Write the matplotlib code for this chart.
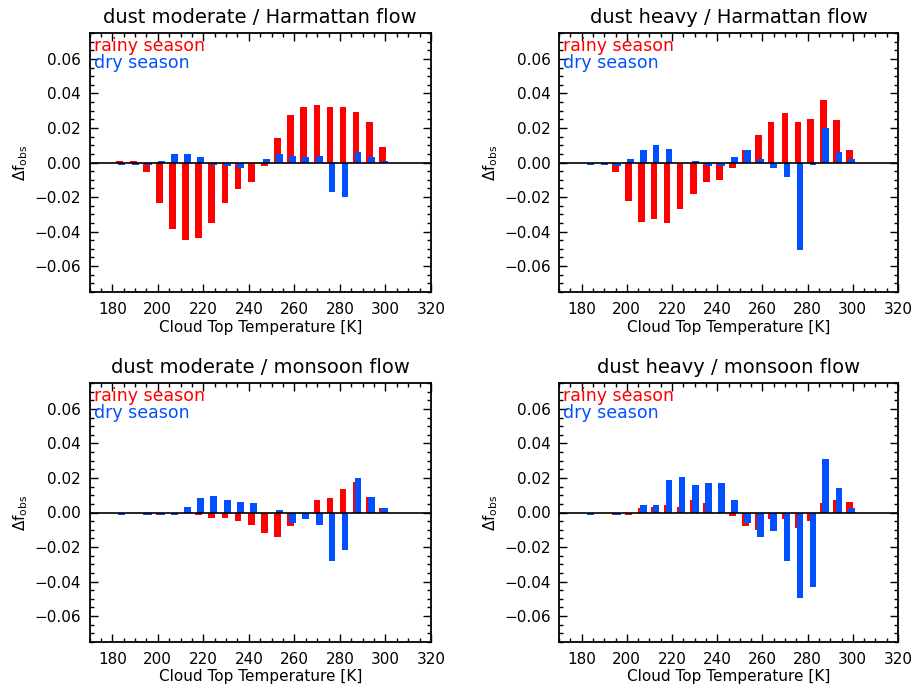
import matplotlib
matplotlib.use("Agg")
import matplotlib.pyplot as plt
from matplotlib.ticker import MultipleLocator

# Cloud-top temperature bin centres [K]
temps = [183.1, 189.2, 195.1, 200.7, 206.4, 212.1, 217.8, 223.5, 229.6, 235.3, 241.1,
         246.8, 252.5, 258.2, 263.9, 270.0, 275.7, 281.4, 287.1, 292.9, 298.6]

titles = ["dust moderate / Harmattan flow", "dust heavy / Harmattan flow",
          "dust moderate / monsoon flow", "dust heavy / monsoon flow"]

# dust moderate / Harmattan flow
rainy_mod_harm = [0.0008, 0.0008, -0.0055, -0.0233, -0.0388, -0.0451, -0.0439, -0.0348, -0.0233, -0.0153, -0.0113,
                  -0.0021, 0.0139, 0.0277, 0.0323, 0.0334, 0.0323, 0.0323, 0.0294, 0.0237, 0.0088]
dry_mod_harm = [-0.0015, -0.0015, -0.0015, 0.0008, 0.0048, 0.0048, 0.0031, -0.0015, -0.0020, -0.0032, 0.0,
                0.0019, 0.0048, 0.0036, 0.0031, 0.0036, -0.0170, -0.0199, 0.0059, 0.0031, 0.0008]

# dust heavy / Harmattan flow
rainy_hvy_harm = [0.0, 0.0, -0.0055, -0.0222, -0.0342, -0.0330, -0.0348, -0.0267, -0.0181, -0.0113, -0.0101,
                  -0.0032, 0.0071, 0.0157, 0.0237, 0.0288, 0.0237, 0.0254, 0.0363, 0.0248, 0.0071]
dry_hvy_harm = [-0.0015, -0.0015, -0.0020, 0.0019, 0.0071, 0.0099, 0.0076, 0.0, 0.0008, -0.0020, -0.0020,
                0.0031, 0.0071, 0.0019, -0.0032, -0.0084, -0.0508, -0.0015, 0.0197, 0.0059, 0.0019]

# dust moderate / monsoon flow
rainy_mod_mons = [0.0, 0.0, -0.0012, -0.0012, 0.0, 0.0, -0.0012, -0.0032, -0.0032, -0.0050, -0.0073,
                  -0.0118, -0.0141, -0.0078, 0.0, 0.0071, 0.0082, 0.0134, 0.0174, 0.0088, 0.0025]
dry_mod_mons = [-0.0012, 0.0, -0.0012, -0.0012, -0.0012, 0.0030, 0.0082, 0.0094, 0.0071, 0.0059, 0.0053,
                0.0, 0.0013, -0.0061, -0.0038, -0.0073, -0.0279, -0.0216, 0.0197, 0.0088, 0.0025]

# dust heavy / monsoon flow
rainy_hvy_mons = [0.0, 0.0, -0.0012, -0.0012, 0.0025, 0.0030, 0.0042, 0.0030, 0.0071, 0.0053, 0.0,
                  -0.0021, -0.0078, -0.0101, -0.0038, -0.0038, -0.0090, -0.0050, 0.0053, 0.0071, 0.0059]
dry_hvy_mons = [-0.0012, 0.0, -0.0012, 0.0, 0.0042, 0.0042, 0.0187, 0.0208, 0.0162, 0.0168, 0.0168,
                0.0071, -0.0061, -0.0141, -0.0107, -0.0279, -0.0497, -0.0434, 0.0309, 0.0139, 0.0025]

rainy_all = [rainy_mod_harm, rainy_hvy_harm, rainy_mod_mons, rainy_hvy_mons]
dry_all = [dry_mod_harm, dry_hvy_harm, dry_mod_mons, dry_hvy_mons]

ytick_vals = [-0.06, -0.04, -0.02, 0.0, 0.02, 0.04, 0.06]
xtick_vals = [180, 200, 220, 240, 260, 280, 300, 320]

RED = "#ff0000"
BLUE = "#0050ff"

W, H = 916, 691
fig = plt.figure(figsize=(W / 100, H / 100), dpi=100)

# axes boxes in pixels: left, top, right, bottom
boxes = [(89.5, 33, 431, 292), (559, 33, 898, 292),
         (89.5, 383, 431, 642), (559, 383, 898, 642)]

bar_w = 2.9
off = 0.9

for i, (l, t, r, b) in enumerate(boxes):
    ax = fig.add_axes([l / W, 1 - b / H, (r - l) / W, (b - t) / H])
    ax.bar(temps, rainy_all[i], width=bar_w, color=RED, zorder=2)
    ax.bar([x + off for x in temps], dry_all[i], width=bar_w, color=BLUE, zorder=3)
    ax.axhline(0, color="black", lw=1.2, zorder=4)
    ax.set_xlim(170, 320)
    ax.set_ylim(-0.075, 0.075)
    ax.set_yticks(ytick_vals)
    ax.set_yticklabels([f"{v:.2f}".replace("-", "\u2212") for v in ytick_vals])
    ax.yaxis.set_minor_locator(MultipleLocator(0.005))
    ax.set_xticks(xtick_vals)
    ax.set_xticklabels([str(v) for v in xtick_vals])
    ax.xaxis.set_minor_locator(MultipleLocator(5))
    ax.tick_params(which="both", direction="in", top=True, right=True,
                   labelsize=11, width=1.0, colors="black")
    ax.tick_params(axis="x", pad=7)
    ax.tick_params(axis="y", pad=6)
    ax.tick_params(which="major", length=6)
    ax.tick_params(which="minor", length=3)
    for sp in ax.spines.values():
        sp.set_linewidth(1.3)
    ax.set_title(titles[i], fontsize=14, pad=7)
    ax.set_xlabel("Cloud Top Temperature [K]", fontsize=11, labelpad=2)
    ax.set_ylabel(r"$\Delta\mathregular{f}_{\mathregular{obs}}$", fontsize=11, labelpad=3)
    ax.text(0.012, 0.985, "rainy season", color=RED, transform=ax.transAxes,
            fontsize=12.5, va="top", ha="left")
    ax.text(0.012, 0.92, "dry season", color=BLUE, transform=ax.transAxes,
            fontsize=12.5, va="top", ha="left")

fig.savefig("out.png", dpi=100)
